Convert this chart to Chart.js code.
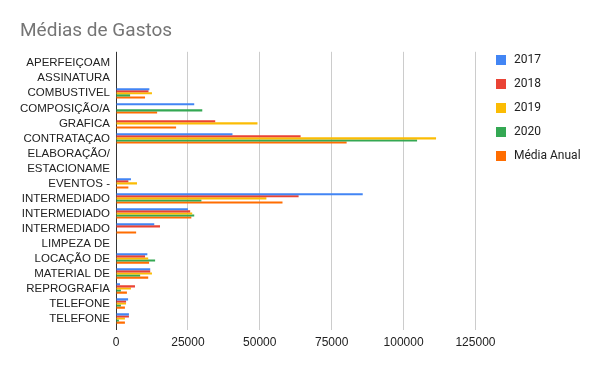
<!DOCTYPE html>
<html>
<head>
<meta charset="utf-8">
<script src="https://cdn.jsdelivr.net/npm/chart.js@4/dist/chart.umd.min.js"></script>
<style>
  html, body { margin: 0; padding: 0; background: #fff; }
  #wrap { width: 600px; height: 370px; position: relative; }
</style>
</head>
<body>
<div id="wrap"><canvas id="chart"></canvas></div>
<script>
// ── Data ──────────────────────────────────────────────────────────────────────

const CATEGORIES = [
  'APERFEIÇOAM', 'ASSINATURA', 'COMBUSTIVEL', 'COMPOSIÇÃO/A', 'GRAFICA',
  'CONTRATAÇAO', 'ELABORAÇÃO/', 'ESTACIONAME', 'EVENTOS -', 'INTERMEDIADO',
  'INTERMEDIADO', 'INTERMEDIADO', 'LIMPEZA DE', 'LOCAÇÃO DE', 'MATERIAL DE',
  'REPROGRAFIA', 'TELEFONE', 'TELEFONE',
]

const Y2017 = [0, 0, 11600, 27200, 0, 40500, 0, 0, 5200, 85800, 25000, 13300, 0, 10900, 11900, 1400, 4200, 4500]
const Y2018 = [0, 0, 11300, 0, 34500, 64200, 0, 0, 4300, 63500, 25800, 15300, 0, 10100, 11900, 6600, 3500, 4500]
const Y2019 = [0, 0, 12500, 0, 49200, 111300, 0, 0, 7300, 52300, 26500, 0, 0, 11200, 12500, 5200, 3500, 3100]
const Y2020 = [0, 0, 4900, 30000, 0, 104700, 0, 0, 0, 29700, 27200, 0, 0, 13600, 8400, 1700, 1700, 1000]
const MEDIA = [0, 0, 10100, 14300, 20900, 80200, 0, 0, 4300, 57900, 26200, 7000, 0, 11500, 11200, 3800, 3100, 3100]

const SERIES_LABELS = ['2017', '2018', '2019', '2020', 'Média Anual']
const SERIES_COLORS = ['#4285F4', '#EA4335', '#FBBC04', '#34A853', '#FF6D01']

const X_MAX = 125000
const X_STEP = 25000

// ── Legend placement (top-right, level with the plot top) ───────────────────

const legendNudge = {
  id: 'legendNudge',
  afterLayout(chart) {
    const lg = chart.legend
    if (!lg) return
    const dx = 484 - lg.left
    const dy = 43 - lg.top
    lg.left += dx; lg.right += dx
    lg.top += dy; lg.bottom += dy
  },
}

// ── Chart ─────────────────────────────────────────────────────────────────────

const seriesData = [Y2017, Y2018, Y2019, Y2020, MEDIA]

const datasets = seriesData.map((data, i) => ({
  label: SERIES_LABELS[i],
  data,
  backgroundColor: SERIES_COLORS[i],
  borderWidth: 0,
  categoryPercentage: 0.69,
  barPercentage: 1.0,
}))

const AXIS_FAMILY = 'Arial, "Liberation Sans", sans-serif'
const gridColor = ctx => (ctx.tick && ctx.tick.value === 0 ? '#333' : '#ccc')

new Chart(document.getElementById('chart').getContext('2d'), {
  type: 'bar',
  data: { labels: CATEGORIES, datasets },
  plugins: [legendNudge],
  options: {
    indexAxis: 'y',
    responsive: true,
    maintainAspectRatio: false,
    animation: false,
    layout: { padding: { left: 20, right: 18, top: 8, bottom: 18 } },
    plugins: {
      title: {
        display: true,
        text: 'Médias de Gastos',
        align: 'start',
        color: '#757575',
        font: { family: 'Roboto, Arial, sans-serif', size: 19, weight: 'normal' },
        padding: { top: 12, bottom: 9 },
      },
      legend: {
        display: true,
        position: 'right',
        align: 'start',
        labels: {
          boxWidth: 14,
          boxHeight: 14,
          padding: 10,
          color: '#222',
          font: { family: 'Roboto, Arial, sans-serif', size: 12 },
          // white ring trims the swatch to 10px and leaves the Sheets-style gap
          generateLabels: chart => Chart.defaults.plugins.legend.labels.generateLabels(chart)
            .map(item => ({ ...item, lineWidth: 4, strokeStyle: '#fff' })),
        },
      },
      tooltip: { enabled: false },
    },
    scales: {
      x: {
        min: 0,
        max: X_MAX,
        ticks: {
          stepSize: X_STEP,
          color: '#222',
          padding: 5,
          font: { family: AXIS_FAMILY, size: 12 },
          callback: v => String(v),
        },
        grid: { color: gridColor, drawTicks: true, tickLength: 4 },
        border: { display: false },
        afterFit: s => { s.height = 26 },
      },
      xTop: {
        axis: 'x',
        position: 'top',
        min: 0,
        max: X_MAX,
        ticks: { display: false, stepSize: X_STEP },
        grid: { color: gridColor, drawOnChartArea: false, drawTicks: true, tickLength: 4 },
        border: { display: false },
        afterFit: s => { s.height = 4 },
      },
      y: {
        ticks: {
          color: '#222',
          padding: 6,
          autoSkip: false,
          font: { family: AXIS_FAMILY, size: 11.5 },
        },
        grid: { display: false, drawTicks: false },
        border: { display: true, color: '#333', width: 1 },
        afterFit: s => { s.width = 96 },
      },
    },
  },
})
</script>
</body>
</html>
